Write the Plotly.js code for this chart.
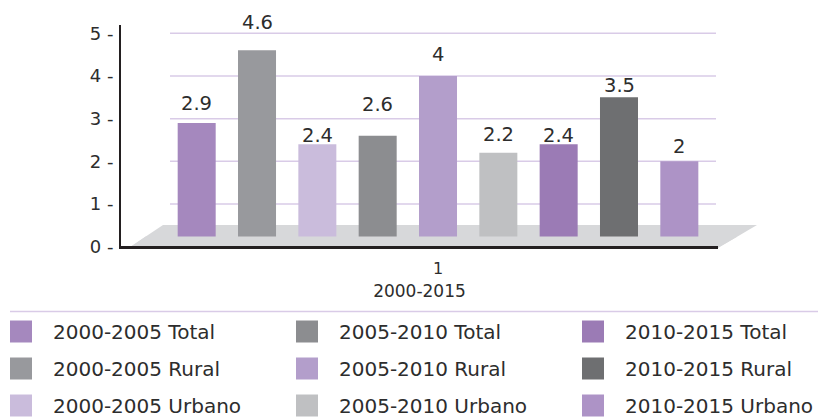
<!DOCTYPE html>
<html>
<head>
<meta charset="utf-8">
<script src="https://cdn.plot.ly/plotly-3.0.1.min.js"></script>
<style>
  html, body { margin: 0; padding: 0; background: #fff; }
  #chart { width: 818px; height: 417px; }
</style>
</head>
<body>
<div id="chart"></div>
<script>
// ---- data ----
const category = ['1'];
const axisTitle = '2000-2015';
const periods = ['2000-2005', '2005-2010', '2010-2015'];
const zones = ['Total', 'Rural', 'Urbano'];
const values2000_2005 = [2.9, 4.6, 2.4];
const values2005_2010 = [2.6, 4, 2.2];
const values2010_2015 = [2.4, 3.5, 2];
const yTicks = [0, 1, 2, 3, 4, 5];

// ---- styles ----
const colors = [
  ['#a588be', '#98999d', '#cabcdc'],
  ['#8c8d90', '#b39ecb', '#bfc0c2'],
  ['#9b7bb5', '#6e6f71', '#ad93c6']
];
const labelLift = [
  [19, 28, 9],
  [31, 21, 18],
  [9, 12, 15]
];
const textColor = '#2d2d2d';
const font = 'DejaVu Sans, sans-serif';

const W = 818, H = 417;
const M = {l: 121, r: 100, t: 25, b: 170, autoexpand: false};
const PW = W - M.l - M.r, PH = H - M.t - M.b;
const px = x => (x - M.l) / PW;
const py = y => (M.t + PH - y) / PH;

const bargap = 0.0905;
const allValues = [values2000_2005, values2005_2010, values2010_2015];
const nBars = periods.length * zones.length;
const slot = (1 - bargap) / nBars;

const traces = [];
const annotations = [];
const legendIds = ['legend', 'legend2', 'legend3'];
periods.forEach((p, pi) => {
  zones.forEach((z, zi) => {
    const idx = pi * zones.length + zi;
    const v = allValues[pi][zi];
    traces.push({
      type: 'bar',
      name: p + ' ' + z,
      x: category,
      y: [v],
      marker: {color: colors[pi][zi]},
      legend: legendIds[pi],
      legendgroup: 'g' + idx,
      hoverinfo: 'name+y'
    });
    annotations.push({
      x: (idx - (nBars - 1) / 2) * slot,
      y: v,
      xref: 'x', yref: 'y',
      text: String(v),
      showarrow: false,
      yanchor: 'middle',
      yshift: labelLift[pi][zi],
      font: {family: font, size: 19.5, color: textColor}
    });
  });
});

const floorColor = '#d7d8da';
const gridColor = '#d9cbe7';
const axisColor = '#231f20';
const shapes = [];
// floor (back)
shapes.push({
  type: 'path', xref: 'paper', yref: 'paper', layer: 'below',
  path: `M${px(130)},${py(247)} L${px(163)},${py(225)} L${px(757)},${py(225)} L${px(718)},${py(248)} Z`,
  fillcolor: floorColor, line: {width: 0}
});
// gridlines (back wall)
yTicks.filter(t => t > 0).forEach(t => {
  shapes.push({
    type: 'line', xref: 'paper', yref: 'y', layer: 'below',
    x0: px(170), x1: px(716), y0: t, y1: t,
    line: {color: gridColor, width: 1.5}
  });
});
// floor front strip (in front of bar bases)
shapes.push({
  type: 'path', xref: 'paper', yref: 'paper', layer: 'above',
  path: `M${px(130)},${py(247.5)} L${px(145.7)},${py(236.6)} L${px(737.5)},${py(236.6)} L${px(718)},${py(247.5)} Z`,
  fillcolor: floorColor, line: {width: 0}
});
// front edge (axis line redrawn over the strip)
shapes.push({
  type: 'line', xref: 'paper', yref: 'paper', layer: 'above',
  x0: 0, x1: 1, y0: 0, y1: 0,
  line: {color: axisColor, width: 2}
});
// legend separator
shapes.push({
  type: 'line', xref: 'paper', yref: 'paper',
  x0: px(10), x1: px(818), y0: py(311.5), y1: py(311.5),
  line: {color: gridColor, width: 1.5}
});

const legendBase = {
  orientation: 'v', xanchor: 'left', yanchor: 'top', y: py(312),
  font: {family: font, size: 20, color: textColor},
  bgcolor: 'rgba(0,0,0,0)', borderwidth: 0,
  itemwidth: 54, tracegroupgap: 8, traceorder: 'grouped'
};

const layout = {
  width: W, height: H,
  margin: M,
  paper_bgcolor: '#fff', plot_bgcolor: 'rgba(0,0,0,0)',
  barmode: 'group', bargap: bargap, bargroupgap: 0.37,
  showlegend: true,
  legend: Object.assign({}, legendBase, {x: px(-11)}),
  legend2: Object.assign({}, legendBase, {x: px(275)}),
  legend3: Object.assign({}, legendBase, {x: px(561)}),
  xaxis: {
    type: 'category',
    range: [-0.531, 0.469],
    showline: true, linecolor: axisColor, linewidth: 2,
    showgrid: false, zeroline: false,
    ticks: '',
    ticklabelshift: -20.5,
    ticklabelstandoff: 6,
    tickfont: {family: font, size: 16, color: textColor},
    title: {text: axisTitle, font: {family: font, size: 17, color: textColor}, standoff: 8}
  },
  yaxis: {
    range: [-0.007, 5.194],
    tickvals: yTicks,
    ticktext: yTicks.map(t => t + ' -'),
    showline: true, linecolor: axisColor, linewidth: 2,
    showgrid: false, zeroline: false,
    ticks: '',
    ticklabelstandoff: 2,
    tickfont: {family: font, size: 18, color: textColor}
  },
  shapes: shapes,
  annotations: annotations
};

Plotly.newPlot('chart', traces, layout, {displayModeBar: false, staticPlot: true}).then(() => {
  document.querySelectorAll('.legendpoints path').forEach(p => {
    p.setAttribute('d', 'M11,11H-11V-11H11Z');
  });
});
</script>
</body>
</html>
